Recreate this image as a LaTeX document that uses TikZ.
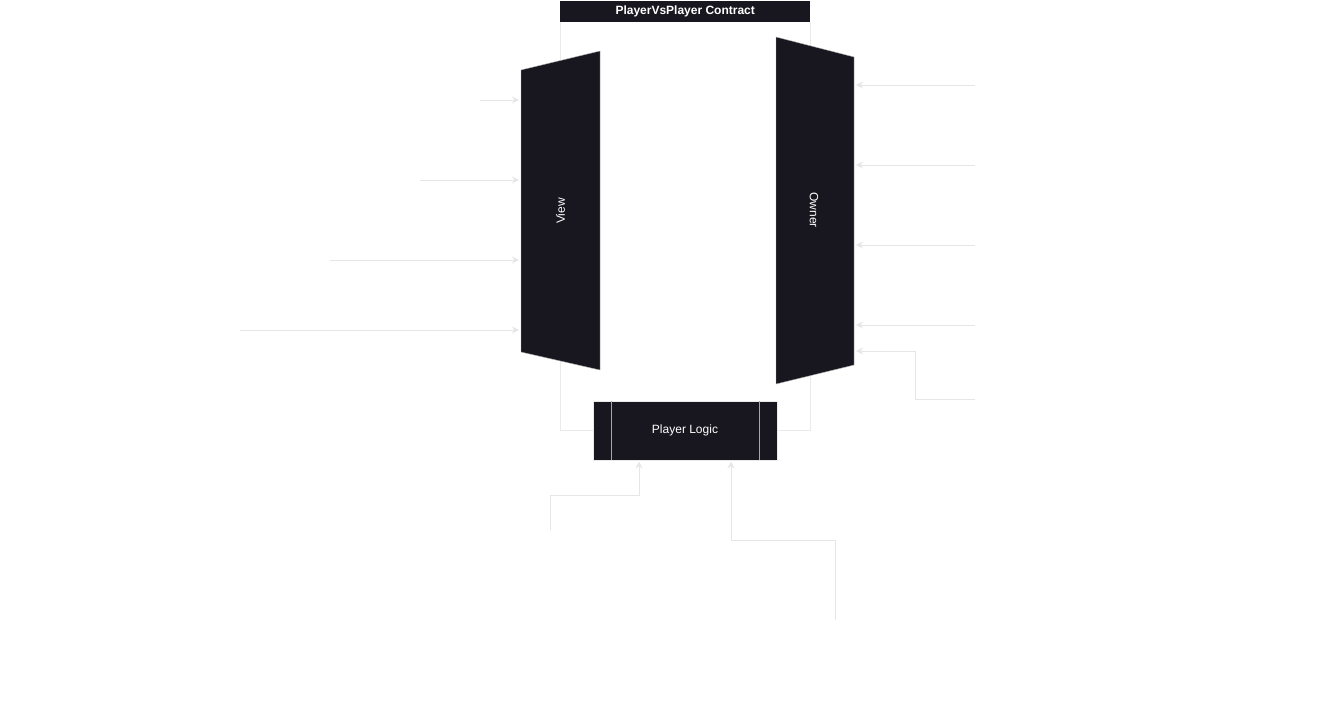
\documentclass[tikz,border=0pt]{standalone}
\usepackage{fontspec}
\setmainfont{Liberation Sans}
\usetikzlibrary{arrows.meta,calc}
\definecolor{dark}{HTML}{18161F}
\definecolor{edge}{HTML}{E6E6E6}
\definecolor{frame}{HTML}{EAEAEA}
\tikzset{
  conn/.style={draw=edge, line width=1pt, -{Stealth[length=7pt,width=7pt]}},
  wtext/.style={text=white, font=\fontsize{12}{14}\selectfont},
}
\begin{document}
\begin{tikzpicture}[x=1pt,y=-1pt]
\useasboundingbox (0,0) rectangle (1335,701);
% container
\draw[frame, line width=0.9pt] (560,22) -- (560,430) -- (593,430);
\draw[frame, line width=0.9pt] (810,22) -- (810,430) -- (777,430);
\node[fill=dark, minimum width=250pt, minimum height=21pt, inner sep=0pt, anchor=north west,
      text=white, font=\bfseries\fontsize{12}{14}\selectfont] (title) at (560,1) {PlayerVsPlayer Contract};
% View trapezoid
\node[minimum width=79pt, minimum height=282pt, inner sep=0pt] (view) at (560.5,211) {};
\fill[dark, draw=gray!60, line width=0.4pt] (521,70) -- (600,51) -- (600,370) -- (521,352) -- cycle;
\node[wtext, rotate=90] (viewlbl) at (view.center) {View};
% Owner trapezoid
\node[minimum width=78pt, minimum height=308pt, inner sep=0pt] (owner) at (815,211) {};
\fill[dark, draw=gray!60, line width=0.4pt] (776,37) -- (854,57) -- (854,365) -- (776,384) -- cycle;
\node[wtext, rotate=-90] (ownerlbl) at (814,210) {Owner};
% Player Logic
\node[fill=dark, draw=frame, line width=0.6pt, minimum width=184pt, minimum height=59pt, inner sep=0pt,
      wtext] (logic) at (685,430.5) {Player Logic};
\draw[gray!70, line width=0.8pt] (611,401) -- (611,460) (759,401) -- (759,460);
% left sources
\coordinate (l1) at (480,100);
\coordinate (l2) at (420,180);
\coordinate (l3) at (330,260);
\coordinate (l4) at (240,330);
\foreach \c/\y in {l1/100,l2/180,l3/260,l4/330}
  \draw[conn] (\c) -- (519,\y);
% right sources
\coordinate (r1) at (975,85);
\coordinate (r2) at (975,165);
\coordinate (r3) at (975,245);
\coordinate (r4) at (975,325);
\coordinate (r5) at (975,399);
\foreach \c/\y in {r1/85,r2/165,r3/245,r4/325}
  \draw[conn] (\c) -- (856,\y);
\draw[conn] (r5) -- (915,399) -- (915,351) -- (856,351);
% bottom sources
\coordinate (b1) at (550,530);
\coordinate (b2) at (835,620);
\draw[conn] (b1) -- (550,495) -- (639,495) -- (639,461.5);
\draw[conn] (b2) -- (835,540) -- (731,540) -- (731,461.5);
\end{tikzpicture}
\end{document}
